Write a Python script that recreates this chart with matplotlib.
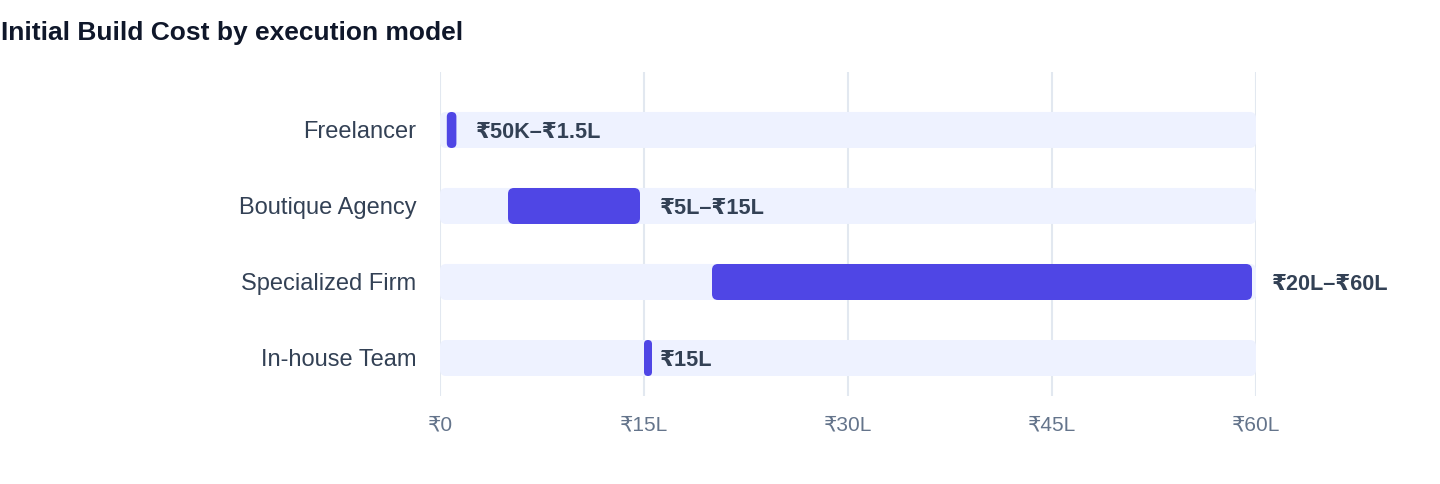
import matplotlib
matplotlib.use("Agg")
import matplotlib.pyplot as plt
from matplotlib.patches import FancyBboxPatch

# values in lakh rupees
models = ["Freelancer", "Boutique Agency", "Specialized Firm", "In-house Team"]
low = [0.5, 5, 20, 15]
high = [1.5, 15, 60, 15]
value_labels = ["₹50K–₹1.5L", "₹5L–₹15L", "₹20L–₹60L", "₹15L"]
ticks = [0, 15, 30, 45, 60]
tick_labels = ["₹0", "₹15L", "₹30L", "₹45L", "₹60L"]

FONT = ["Liberation Sans", "DejaVu Sans"]
plt.rcParams["font.family"] = FONT

W, H = 1440, 484
fig = plt.figure(figsize=(W / 100, H / 100), dpi=100)
ax_l, ax_r, ax_t, ax_b = 440, 1256, 72, 396
ax = fig.add_axes([ax_l / W, 1 - ax_b / H, (ax_r - ax_l) / W, (ax_b - ax_t) / H])

xmax = 60
ax.set_xlim(0, xmax)
ax.set_ylim(3.5, -0.763)

px_x = (ax_r - ax_l) / xmax          # pixels per lakh
px_y = (ax_b - ax_t) / (3.5 + 0.763)  # pixels per category step
bar_h = 36 / px_y
aspect = px_x / px_y


def rounded(x, y, w, h, color, z):
    r = min(6, w * px_x / 2, 18) / px_x
    p = FancyBboxPatch((x, y), w, h,
                       boxstyle=f"round,pad=0,rounding_size={r}",
                       mutation_aspect=aspect, fc=color, ec="none", zorder=z)
    ax.add_patch(p)


for i, (lo, hi, lab) in enumerate(zip(low, high, value_labels)):
    y0 = i - bar_h / 2
    rounded(0, y0, xmax, bar_h, "#EEF2FF", 2)
    end = max(hi - 4 / px_x, lo + 8 / px_x)
    rounded(lo, y0, end - lo, bar_h, "#4F46E5", 3)
    ax.text(hi + 16 / px_x, i, lab, va="center_baseline", ha="left", fontsize=15.6,
            fontweight="bold", color="#334155", zorder=4, clip_on=False)

ax.set_yticks(range(len(models)))
ax.set_yticklabels(models, fontsize=17, color="#334155")
ax.set_xticks(ticks)
ax.set_xticklabels(tick_labels, fontsize=15, color="#64748B")
ax.tick_params(axis="y", length=0, pad=17)
ax.tick_params(axis="x", length=0, pad=14)
ax.grid(axis="x", color="#E2E8F0", linewidth=1.5, zorder=1)
ax.set_axisbelow(True)
for s in ax.spines.values():
    s.set_visible(False)

fig.text(1 / W, 1 - 33 / H, "Initial Build Cost by execution model",
         fontsize=19, fontweight="bold", color="#0F172A", va="center", ha="left")

fig.savefig("out.png", dpi=100)
